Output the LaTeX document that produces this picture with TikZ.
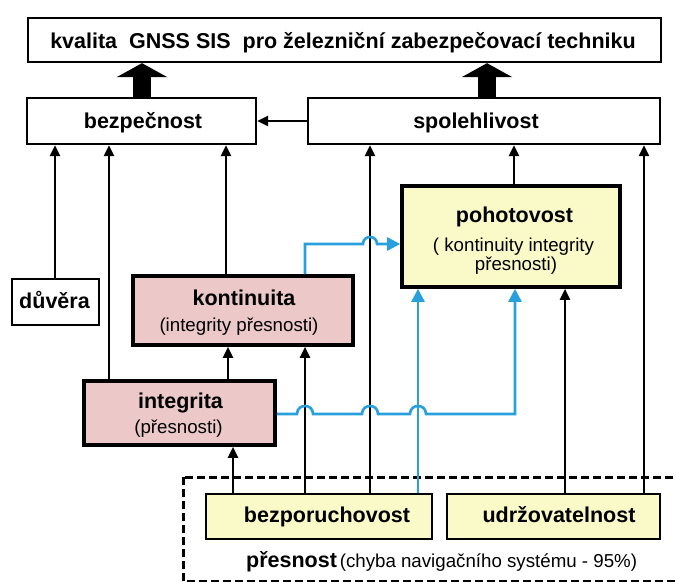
\documentclass[tikz,border=0pt]{standalone}
\usepackage{fontspec}
\setmainfont{Liberation Sans}
\usetikzlibrary{arrows.meta}
\definecolor{pinkf}{RGB}{236,200,200}
\definecolor{yelf}{RGB}{250,250,200}
\definecolor{bluel}{RGB}{40,160,222}
\newcommand{\mylblfont}{\bfseries\fontsize{21.5}{24}\selectfont}
\newcommand{\mysubfont}{\fontsize{18.7}{22}\selectfont}
\begin{document}
\begin{tikzpicture}[x=1pt,y=-1pt,
  box/.style={draw, line width=2.3pt, rectangle, inner sep=0pt},
  thickbox/.style={draw, line width=3.6pt, rectangle, inner sep=0pt},
  lbl/.style={anchor=base, inner sep=0pt, font=\mylblfont},
  sub/.style={anchor=base, inner sep=0pt, font=\mysubfont},
  arr/.style={line width=2.3pt, -{Triangle[length=11pt,width=10pt]}},
  barr/.style={line width=2.6pt, draw=bluel, -{Triangle[length=13pt,width=13pt]}},
  bigarrow/.style={line width=18pt, -{Triangle[length=14pt,width=50pt]}}]
\useasboundingbox (0,0) rectangle (676,581);
\clip (0,0) rectangle (676,581);
\fill[white] (0,0) rectangle (676,581);

% dashed region
\draw[line width=3pt, dash pattern=on 8pt off 4pt] (183,477) rectangle (720,581);

% boxes
\node[box, minimum width=633pt, minimum height=44pt] (top) at (344.5,40) {};
\node[box, minimum width=229pt, minimum height=46pt] (bezp) at (141.5,121) {};
\node[box, minimum width=352pt, minimum height=46pt] (spol) at (484,121) {};
\node[box, minimum width=87pt, minimum height=46pt] (duv) at (55.5,302) {};
\node[thickbox, fill=pinkf, minimum width=220pt, minimum height=69pt] (kont) at (243,310.5) {};
\node[thickbox, fill=yelf, minimum width=218pt, minimum height=101pt] (poho) at (511,236.5) {};
\node[thickbox, fill=pinkf, minimum width=191pt, minimum height=64pt] (intg) at (179.5,413) {};
\node[box, fill=yelf, minimum width=226pt, minimum height=45pt] (bezpor) at (319,516.5) {};
\node[box, fill=yelf, minimum width=213pt, minimum height=45pt] (udrz) at (553.5,516.5) {};

% texts
\node[lbl] (topT) at (343,48) {kvalita\ \ GNSS SIS\ \ pro železniční zabezpečovací techniku};
\node[lbl] (bezpT) at (143,128) {bezpečnost};
\node[lbl] (spolT) at (476,128) {spolehlivost};
\node[lbl] (duvT) at (54.5,308) {důvěra};
\node[lbl] (kontT) at (244,305) {kontinuita};
\node[sub] (kontS) at (239,331) {(integrity přesnosti)};
\node[lbl] (intgT) at (180.5,408) {integrita};
\node[sub] (intgS) at (178.5,433) {(přesnosti)};
\node[lbl] (pohoT) at (514.5,222) {pohotovost};
\node[sub] (pohoS) at (513.5,251) {( kontinuity integrity};
\node[sub] (pohoS2) at (516,270) {přesnosti)};
\node[lbl] (bezporT) at (327,522) {bezporuchovost};
\node[lbl] (udrzT) at (559,522) {udržovatelnost};
\node[anchor=base west, inner sep=0pt] (presT) at (246,567) {{\mylblfont přesnost} {\mysubfont(chyba navigačního systému - 95\%)}};

% big arrows
\draw[bigarrow] (bezp.north -| 142,0) -- (top.south -| 142,0);
\draw[bigarrow] (spol.north -| 487,0) -- (top.south -| 487,0);

% black connectors
\draw[arr] (spol.west) -- (bezp.east);
\draw[arr] (duv.north -| 55,0) -- (bezp.south -| 55,0);
\draw[arr] (intg.north -| 109,0) -- (bezp.south -| 109,0);
\draw[arr] (kont.north -| 226,0) -- (bezp.south -| 226,0);
\draw[arr] (intg.north -| 228,0) -- (kont.south -| 228,0);
\draw[arr] (bezpor.north -| 233,0) -- (intg.south -| 233,0);
\draw[arr] (bezpor.north -| 305,0) -- (kont.south -| 305,0);
\draw[arr] (bezpor.north -| 370,0) -- (spol.south -| 370,0);
\draw[arr] (poho.north -| 514,0) -- (spol.south -| 514,0);
\draw[arr] (udrz.north -| 565,0) -- (poho.south -| 565,0);
\draw[arr] (udrz.north -| 644,0) -- (spol.south -| 644,0);

% blue connectors
\draw[barr] (bezpor.north -| 418,0) -- (poho.south -| 418,0);
\draw[barr] (kont.north -| 305,0) -- (305,244) -- (363,244)
  .. controls (363,234.7) and (377,234.7) .. (377,244) -- (poho.west |- 0,244);
\draw[barr] (intg.east |- 0,414) -- (297,414)
  .. controls (297,403.3) and (313,403.3) .. (313,414) -- (362,414)
  .. controls (362,403.3) and (378,403.3) .. (378,414) -- (410,414)
  .. controls (410,403.3) and (426,403.3) .. (426,414) -- (515,414)
  -- (poho.south -| 515,0);
\end{tikzpicture}
\end{document}
